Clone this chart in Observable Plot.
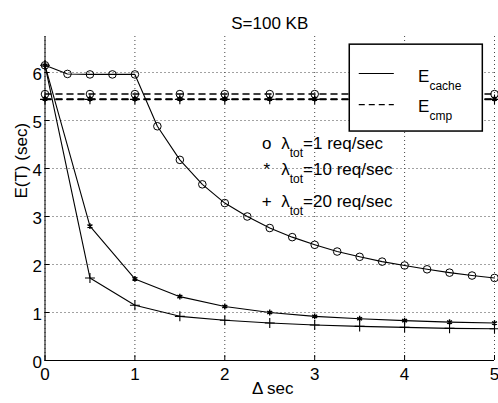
<!DOCTYPE html>
<html>
<head>
<meta charset="utf-8">
<script src="https://cdn.jsdelivr.net/npm/d3@7"></script>
<script src="https://cdn.jsdelivr.net/npm/@observablehq/plot@0.6"></script>
<style>
  body { margin: 0; background: #fff; }
  svg { display: block; }
</style>
</head>
<body>
<div id="chart"></div>
<script>
// ---------- data ----------
const deltaFine   = [0, 0.25, 0.5, 0.75, 1, 1.25, 1.5, 1.75, 2, 2.25, 2.5, 2.75, 3, 3.25, 3.5, 3.75, 4, 4.25, 4.5, 4.75, 5];
const deltaCoarse = [0, 0.5, 1, 1.5, 2, 2.5, 3, 3.5, 4, 4.5, 5];

const cacheL1  = [6.15, 5.97, 5.96, 5.96, 5.96, 4.88, 4.18, 3.67, 3.28, 3.00, 2.76, 2.57, 2.41, 2.27, 2.16, 2.06, 1.98, 1.90, 1.83, 1.77, 1.72];
const cacheL10 = [6.15, 2.80, 1.70, 1.33, 1.125, 1.00, 0.92, 0.87, 0.83, 0.80, 0.78];
const cacheL20 = [6.15, 1.72, 1.15, 0.92, 0.84, 0.78, 0.74, 0.71, 0.69, 0.67, 0.66];

const cmpL1  = [5.55, 5.55, 5.55, 5.55, 5.55, 5.55, 5.55, 5.55, 5.55, 5.55, 5.55];
const cmpL10 = [5.45, 5.45, 5.45, 5.45, 5.45, 5.45, 5.45, 5.45, 5.45, 5.45, 5.45];
const cmpL20 = [5.44, 5.44, 5.44, 5.44, 5.44, 5.44, 5.44, 5.44, 5.44, 5.44, 5.44];

const xTicks = [0, 1, 2, 3, 4, 5];
const yTicks = [0, 1, 2, 3, 4, 5, 6];

const titleText = "S=100 KB";
const xLabel = "\u0394 sec";
const yLabel = "E(T) (sec)";
const legendLabels = ["E_{cache}", "E_{cmp}"];
const annotationMarkers = ["o", "*", "+"];
const annotationLabels = ["\u03bb_{tot}=1 req/sec", "\u03bb_{tot}=10 req/sec", "\u03bb_{tot}=20 req/sec"];

// ---------- layout (legend / annotation placement, in data units) ----------
const legendBox = {x1: 3.39, x2: 4.87, y1: 4.77, y2: 6.58};
const legendSampleX = [3.49, 3.88];
const legendRowY = [5.98, 5.33];
const legendTextX = 4.15;
const legendTextY = [5.925, 5.287];
const annotMarkerX = 2.467;
const annotTextX = 2.628;
const annotY = [4.51, 3.97, 3.32];

// ---------- tables ----------
const tbl = (xs, ys) => xs.map((x, i) => ({x, y: ys[i]}));
const cache1 = tbl(deltaFine, cacheL1);
const cache10 = tbl(deltaCoarse, cacheL10);
const cache20 = tbl(deltaCoarse, cacheL20);
const cmp1 = tbl(deltaCoarse, cmpL1);
const cmp10 = tbl(deltaCoarse, cmpL10);
const cmp20 = tbl(deltaCoarse, cmpL20);

const legendRows = legendLabels.map((label, i) => ({
  label, x1: legendSampleX[0], x2: legendSampleX[1], y: legendRowY[i], ty: legendTextY[i],
  dash: i === 0 ? null : "6,4"
}));
const annots = annotationLabels.map((label, i) => ({label, marker: annotationMarkers[i], y: annotY[i]}));

const FS = 17;
const grid = {stroke: "#444", strokeWidth: 1, strokeDasharray: "1,3"};
const dashStyle = {stroke: "black", strokeWidth: 1.5, strokeDasharray: "6,5"};
const solidStyle = {stroke: "black", strokeWidth: 1.1};
const circleStyle = {r: 3.8, stroke: "black", fill: "none", strokeWidth: 1};
const starStyle = {r: 2.7, symbol: "asterisk", stroke: "black", strokeWidth: 1.4};
const plusStyle = {r: 3.3, symbol: "plus", stroke: "black", strokeWidth: 1.1};

const chart = Plot.plot({
  width: 498,
  height: 403,
  marginLeft: 44.5,
  marginRight: 4,
  marginTop: 36,
  marginBottom: 43,
  style: {fontFamily: "'Liberation Sans', Arial, Helvetica, sans-serif", fontSize: FS + "px", background: "white"},
  x: {domain: [0, 5], label: null},
  y: {domain: [0, 6.75], label: null},
  marks: [
    // grid
    Plot.ruleX(xTicks, grid),
    Plot.ruleY(yTicks, grid),
    // E_cmp dashed lines with markers
    Plot.line(cmp1, {x: "x", y: "y", ...dashStyle}),
    Plot.line(cmp10, {x: "x", y: "y", ...dashStyle}),
    Plot.line(cmp20, {x: "x", y: "y", ...dashStyle}),
    Plot.dot(cmp1, {x: "x", y: "y", ...circleStyle}),
    Plot.dot(cmp10, {x: "x", y: "y", ...starStyle}),
    Plot.dot(cmp20, {x: "x", y: "y", ...plusStyle}),
    // E_cache solid lines with markers
    Plot.line(cache1, {x: "x", y: "y", ...solidStyle}),
    Plot.line(cache10, {x: "x", y: "y", ...solidStyle}),
    Plot.line(cache20, {x: "x", y: "y", ...solidStyle}),
    Plot.dot(cache1, {x: "x", y: "y", ...circleStyle}),
    Plot.dot(cache10, {x: "x", y: "y", ...starStyle}),
    Plot.dot(cache20, {x: "x", y: "y", ...plusStyle}),
    // axes lines
    Plot.ruleX([0], {stroke: "black", strokeWidth: 1}),
    Plot.ruleY([0], {stroke: "black", strokeWidth: 1}),
    // inward ticks
    Plot.axisX(xTicks, {tickSize: -5, tickFormat: () => "", stroke: "black"}),
    Plot.axisY(yTicks, {tickSize: -5, tickFormat: () => "", stroke: "black"}),
    // tick labels
    Plot.axisX(xTicks, {tickSize: 0, tickPadding: 7, fontSize: FS, fill: "black"}),
    Plot.axisY(yTicks, {tickSize: 0, tickPadding: 3, dy: 2, fontSize: FS, fill: "black"}),
    // legend
    Plot.rect([legendBox], {x1: "x1", x2: "x2", y1: "y1", y2: "y2", fill: "white", stroke: "black", strokeWidth: 1.5}),
    Plot.link(legendRows.filter(d => !d.dash), {x1: "x1", x2: "x2", y1: "y", y2: "y", stroke: "black", strokeWidth: 1.1}),
    Plot.link(legendRows.filter(d => d.dash), {x1: "x1", x2: "x2", y1: "y", y2: "y", stroke: "black", strokeWidth: 1.1, strokeDasharray: "6,4"}),
    Plot.text(legendRows, {x: () => legendTextX, y: "ty", text: "label", textAnchor: "start", fontSize: FS, fill: "black"}),
    // annotations
    Plot.text(annots, {x: () => annotMarkerX, y: "y", text: "marker", textAnchor: "middle", fontSize: FS, fill: "black"}),
    Plot.text(annots, {x: () => annotTextX, y: "y", text: "label", textAnchor: "start", fontSize: FS, fill: "black"}),
    // title and axis labels
    Plot.text([titleText], {frameAnchor: "top", dy: -20, fontSize: FS, fill: "black"}),
    Plot.text([xLabel], {frameAnchor: "bottom", dy: 33, dx: 3, fontSize: FS, fill: "black"}),
    Plot.text([yLabel], {frameAnchor: "left", rotate: -90, dx: -23, fontSize: FS, fill: "black"})
  ]
});

// subscripts: turn "_{...}" into lowered small tspans
d3.select(chart).selectAll("text").each(function() {
  const t = this.textContent;
  if (!t.includes("_{")) return;
  const parts = t.split(/(_\{[^}]*\})/).filter(p => p);
  const sel = d3.select(this);
  sel.text(null);
  let shifted = false;
  for (const p of parts) {
    if (p.startsWith("_{")) {
      sel.append("tspan").attr("dy", 8).attr("font-size", 12).text(p.slice(2, -1));
      shifted = true;
    } else {
      const ts = sel.append("tspan").text(p);
      if (shifted) { ts.attr("dy", -8); shifted = false; }
    }
  }
});

document.getElementById("chart").appendChild(chart);
</script>
</body>
</html>
